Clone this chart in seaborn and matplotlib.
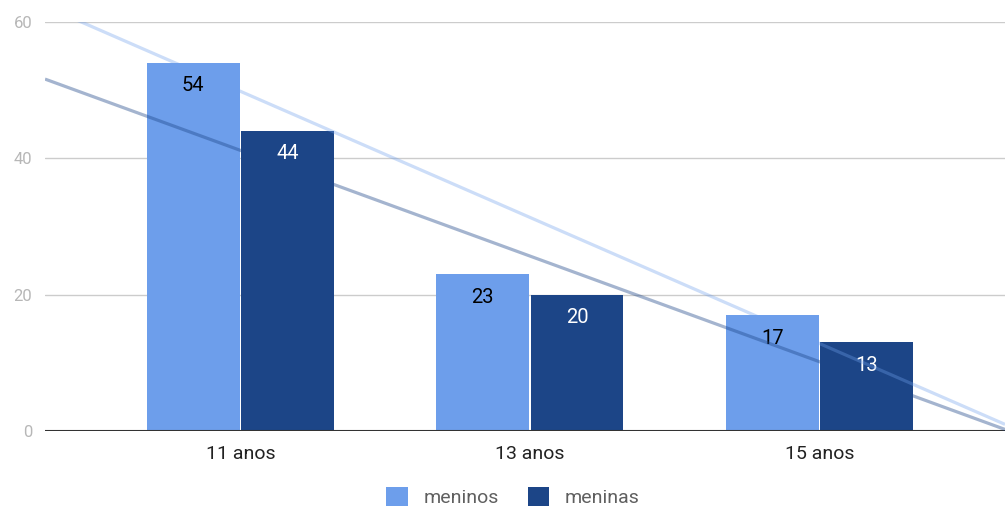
import numpy as np
import pandas as pd
import matplotlib
matplotlib.use("Agg")
import matplotlib.pyplot as plt
import seaborn as sns

idades = ["11 anos", "13 anos", "15 anos"]
meninos = [54, 23, 17]
meninas = [44, 20, 13]
series = ["meninos", "meninas"]
cores = {"meninos": "#6d9eeb", "meninas": "#1c4587"}
yticks = [0, 20, 40, 60]

df = pd.DataFrame({
    "idade": idades * 2,
    "valor": meninos + meninas,
    "grupo": ["meninos"] * 3 + ["meninas"] * 3,
})

sns.set_theme(style="white")
plt.rcParams["font.family"] = ["Roboto", "DejaVu Sans"]

fig = plt.figure(figsize=(10.05, 5.09), dpi=100)
ax = fig.add_axes([45 / 1005, 78 / 509, 960 / 1005, 409 / 509])

sns.barplot(data=df, x="idade", y="valor", hue="grupo", hue_order=series,
            palette=cores, width=0.652, gap=0.018, saturation=1,
            edgecolor="none", ax=ax, zorder=2)

# value labels just inside the top of each bar
for cont, nome in zip(ax.containers, series):
    cor_txt = "#000000" if nome == "meninos" else "#ffffff"
    for barra, v in zip(cont.patches, df[df.grupo == nome].valor):
        ax.annotate(f"{v}", (barra.get_x() + barra.get_width() / 2, v),
                    xytext=(0, -16.5), textcoords="offset points",
                    ha="center", va="center", fontsize=14.5, color=cor_txt,
                    zorder=4)

ax.set_xlim(-0.675, 2.641)
ax.set_ylim(0, 60)

# linear trend lines for each series over the full width
xs = np.array(ax.get_xlim())
pos = np.arange(len(idades))
for nome, vals, alpha in [("meninos", meninos, 0.35), ("meninas", meninas, 0.4)]:
    coef = np.polyfit(pos, vals, 1)
    ax.plot(xs, np.polyval(coef, xs), color=cores[nome], alpha=alpha,
            lw=2.3, zorder=5, solid_capstyle="butt")

ax.set_yticks(yticks)
ax.set_yticklabels([str(t) for t in yticks], fontsize=12, color="#b7b7b7")
ax.tick_params(axis="y", length=0, pad=9)
ax.tick_params(axis="x", length=0, pad=10, labelsize=14, labelcolor="#222222")
ax.grid(axis="y", color="#cccccc", lw=1, zorder=0)
ax.axhline(0, color="#333333", lw=1.5, zorder=3)
for s in ax.spines.values():
    s.set_visible(False)
ax.set_xlabel("")
ax.set_ylabel("")

sns.move_legend(ax, "center", bbox_to_anchor=(513 / 1005, 12 / 509),
                bbox_transform=fig.transFigure, ncol=2, frameon=False,
                title=None, fontsize=14, handlelength=1.1, handleheight=1.1,
                handletextpad=0.8, columnspacing=1.5, labelcolor="#5f5f5f")

fig.savefig("out.png", dpi=100)
